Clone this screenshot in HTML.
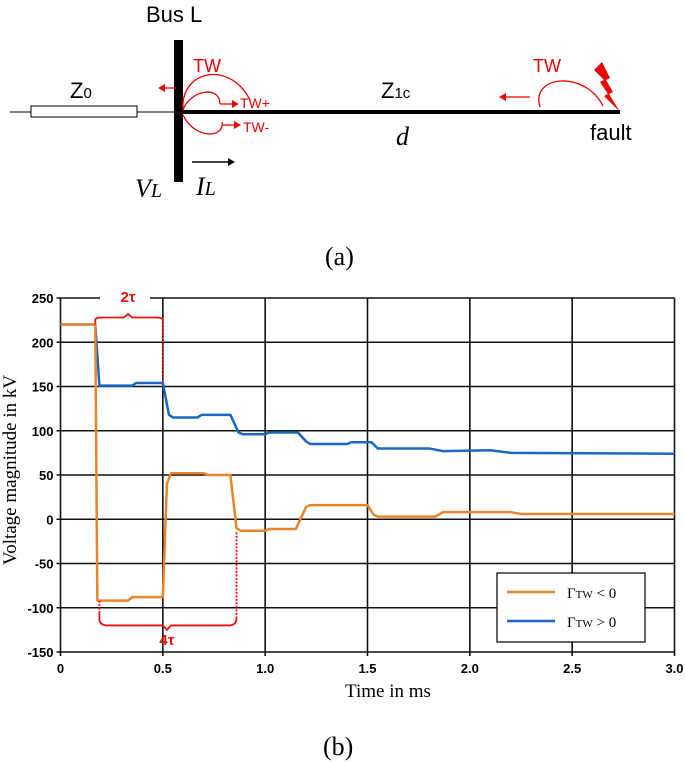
<!DOCTYPE html>
<html><head><meta charset="utf-8"><style>
body{margin:0;background:#fff;width:685px;height:762px;overflow:hidden}
svg{display:block}
</style></head><body>
<svg width="685" height="762" viewBox="0 0 685 762" xmlns="http://www.w3.org/2000/svg">
<g font-family="Liberation Sans, sans-serif">
  <line x1="10" y1="112" x2="180" y2="112" stroke="#000" stroke-width="1"/>
  <rect x="31" y="106" width="106" height="11" fill="#fff" stroke="#000" stroke-width="1"/>
  <text x="70" y="98" font-size="22">Z<tspan font-size="15">0</tspan></text>
  <rect x="174" y="40" width="9" height="142" fill="#000"/>
  <text x="146" y="22" font-size="22">Bus L</text>
  <line x1="180" y1="112" x2="620" y2="112" stroke="#000" stroke-width="4"/>
  <text x="381" y="98" font-size="22">Z<tspan font-size="15">1c</tspan></text>
  <text x="396" y="145" font-size="26" font-style="italic" font-family="Liberation Serif, serif">d</text>
  <text x="590" y="140" font-size="22">fault</text>
  <text x="135" y="197" font-size="26" font-style="italic" font-family="Liberation Serif, serif">V<tspan font-size="20">L</tspan></text>
  <text x="196" y="195" font-size="26" font-style="italic" font-family="Liberation Serif, serif">I<tspan font-size="20">L</tspan></text>
  <line x1="192" y1="162" x2="228" y2="162" stroke="#000" stroke-width="1.5"/><path d="M228,158 L235,162 L228,166Z" fill="#000"/>
  <g stroke="#e00" fill="none" stroke-width="1.3">
    <path d="M183,110 C180,70 230,60 250,100"/>
    <path d="M183,110 C190,90 220,85 220,104"/>
    <path d="M183,115 C195,140 225,138 222,122"/>
    <line x1="220" y1="104" x2="232" y2="104"/><line x1="222" y1="125" x2="234" y2="125"/>
    <line x1="176" y1="88" x2="165" y2="88"/>
    <path d="M540,107 C530,75 585,70 603,106"/>
    <line x1="530" y1="97" x2="506" y2="97"/>
  </g>
  <g fill="#e00"><path d="M232,100 L239,104 L232,108Z"/><path d="M234,121 L241,125 L234,129Z"/><path d="M165,84 L158,88 L165,92Z"/><path d="M506,93 L499,97 L506,101Z"/>
  <path d="M594,70 L602,62 L610,78 L606,80 L613,92 L609,94 L620,112 L604,96 L608,94 L600,82 L604,80Z"/></g>
  <g fill="#e00" font-size="18"><text x="193" y="72">TW</text><text x="240" y="108" font-size="14">TW+</text><text x="243" y="132" font-size="14">TW-</text><text x="533" y="72">TW</text></g>
  <text x="325" y="265" font-size="26" font-family="Liberation Serif, serif">(a)</text>
</g>
<g id="chart"></g>
<text x="323" y="755" font-size="26" font-family="Liberation Serif, serif">(b)</text>
</svg>
<script>
const xTicks=[0,0.5,1.0,1.5,2.0,2.5,3.0];
const xTickLabels=["0","0.5","1.0","1.5","2.0","2.5","3.0"];
const yTicks=[250,200,150,100,50,0,-50,-100,-150];
const orangeT=[0,0.17,0.18,0.33,0.35,0.5,0.52,0.54,0.7,0.72,0.83,0.86,0.88,1.0,1.02,1.15,1.2,1.22,1.5,1.53,1.55,1.83,1.87,2.2,2.25,3.0];
const orangeV=[220,220,-92,-92,-88,-88,40,52,52,50,50,-10,-13,-13,-11,-11,14,16,16,5,3,3,8,8,6,6];
const blueT=[0,0.17,0.19,0.35,0.37,0.5,0.53,0.55,0.67,0.69,0.83,0.87,0.89,1.0,1.02,1.16,1.2,1.22,1.4,1.42,1.52,1.55,1.8,1.87,2.1,2.2,3.0];
const blueV=[220,220,151,151,154,154,118,115,115,118,118,98,96,96,98,98,88,85,85,87,87,80,80,77,78,75,74];
const NS='http://www.w3.org/2000/svg';
const X0=60.5,X1=674.5,Y0=298,Y1=652;
const xs=t=>X0+(t-0)/(3-0)*(X1-X0);
const ys=v=>Y1-(v+150)/(400)*(Y1-Y0);
const g=document.getElementById('chart');
function el(tag,a,p){const e=document.createElementNS(NS,tag);for(const k in a)e.setAttribute(k,a[k]);(p||g).appendChild(e);return e;}
yTicks.forEach(v=>{
  const l=el('line',{x1:X0-4,x2:X1,y1:ys(v),y2:ys(v),stroke:'#111','stroke-width':1.6});
  
  
  const t=el('text',{x:X0-7,y:ys(v)+5,'text-anchor':'end','font-size':13,'font-weight':'bold','font-family':'Liberation Sans, sans-serif'});
  t.textContent=v;
  
  
});
xTicks.forEach((v,i)=>{
  const l=el('line',{x1:xs(v),x2:xs(v),y1:Y0,y2:Y1+4,stroke:'#111','stroke-width':1.6});
  
  
  const t=el('text',{x:xs(v),y:Y1+21,'text-anchor':'middle','font-size':13,'font-weight':'bold','font-family':'Liberation Sans, sans-serif'});
  t.textContent=xTickLabels[i];
  
  
});
function series(T,V,c,name){
  const p=el('polyline',{points:T.map((t,i)=>xs(t)+','+ys(V[i])).join(' '),fill:'none',stroke:c,'stroke-width':2.5,'stroke-linejoin':'round'});
  
  
}
series(blueT,blueV,'#1769c4','series-gamma-positive');
series(orangeT,orangeV,'#e8852a','series-gamma-negative');
const ann=el('g',{stroke:'#e11','stroke-width':1.8,fill:'none'});


el('rect',{x:100,y:289,width:50,height:16,fill:'#fff',stroke:'none'});
el('path',{d:`M${xs(0.17)},${ys(220)} L${xs(0.17)},${ys(225)} Q${xs(0.17)},${ys(228)} ${xs(0.2)},${ys(228)} L${xs(0.31)},${ys(228)} L${xs(0.33)},${ys(232)} L${xs(0.35)},${ys(228)} L${xs(0.47)},${ys(228)} Q${xs(0.5)},${ys(228)} ${xs(0.5)},${ys(225)}`},ann);
el('line',{x1:xs(0.5),x2:xs(0.5),y1:ys(225),y2:ys(155),'stroke-dasharray':'2,1.5'},ann);
el('line',{x1:xs(0.19),x2:xs(0.19),y1:ys(-92),y2:ys(-104),'stroke-dasharray':'2,1.5'},ann);
el('path',{d:`M${xs(0.19)},${ys(-104)} L${xs(0.19)},${ys(-112)} Q${xs(0.19)},${ys(-120)} ${xs(0.23)},${ys(-120)} L${xs(0.5)},${ys(-120)} L${xs(0.52)},${ys(-125)} L${xs(0.54)},${ys(-120)} L${xs(0.82)},${ys(-120)} Q${xs(0.86)},${ys(-120)} ${xs(0.86)},${ys(-112)}`},ann);
el('line',{x1:xs(0.86),x2:xs(0.86),y1:ys(-112),y2:ys(-14),'stroke-dasharray':'2,1.5'},ann);
const t2=el('text',{x:xs(0.33),y:302,'text-anchor':'middle','font-size':15,'font-weight':'bold',fill:'#e11','font-family':'Liberation Sans, sans-serif'});t2.textContent='2τ';


const t4=el('text',{x:xs(0.52),y:ys(-142),'text-anchor':'middle','font-size':15,'font-weight':'bold',fill:'#e11','font-family':'Liberation Sans, sans-serif'});t4.textContent='4τ';


const lg=el('g',{});


el('rect',{x:497,y:573,width:148,height:69,fill:'#fff',stroke:'#111','stroke-width':1.3},lg);
el('line',{x1:507,x2:555,y1:592,y2:592,stroke:'#e8852a','stroke-width':2.5},lg);
el('line',{x1:507,x2:555,y1:621,y2:621,stroke:'#1769c4','stroke-width':2.5},lg);
const l1=el('text',{x:567,y:598,'font-size':15,'font-family':'Liberation Serif, serif'},lg);l1.innerHTML='Γ<tspan font-size="11">TW</tspan> &lt; 0';


const l2=el('text',{x:567,y:627,'font-size':15,'font-family':'Liberation Serif, serif'},lg);l2.innerHTML='Γ<tspan font-size="11">TW</tspan> &gt; 0';


const xt=el('text',{x:388,y:697,'text-anchor':'middle','font-size':19,'font-family':'Liberation Serif, serif'});xt.textContent='Time in ms';


const yt=el('text',{x:0,y:0,'text-anchor':'middle','font-size':19,'font-family':'Liberation Serif, serif',transform:'translate(16,470) rotate(-90)'});yt.textContent='Voltage magnitude in kV';


</script>
</body></html>
